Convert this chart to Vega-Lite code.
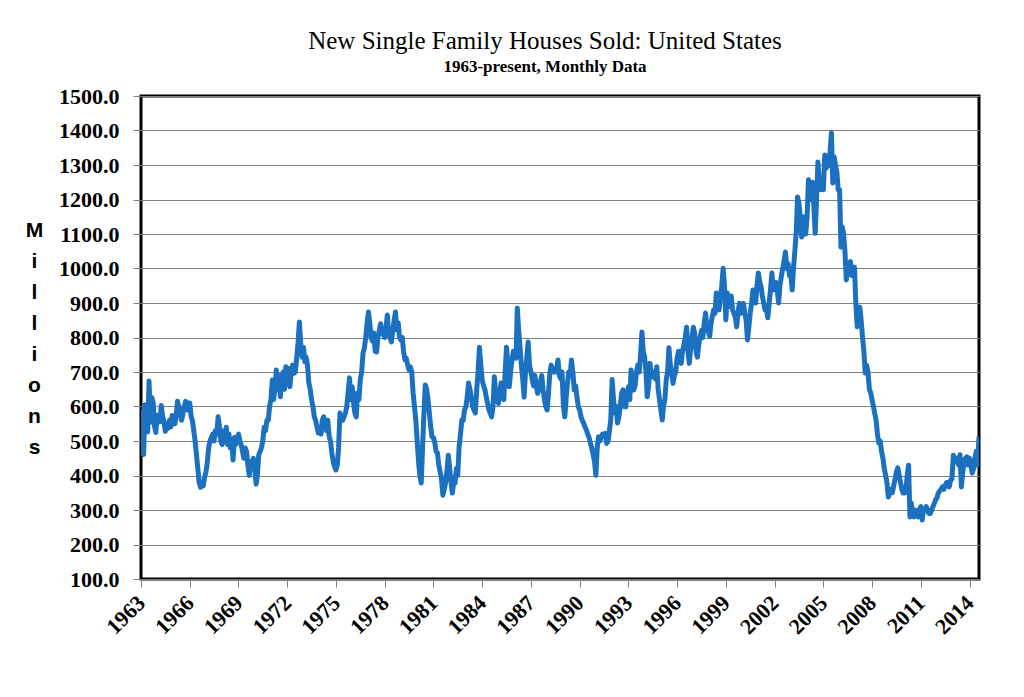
{
  "$schema": "https://vega.github.io/schema/vega-lite/v6.json",
  "width": 838,
  "height": 483,
  "autosize": {"type": "none"},
  "padding": {"left": 141, "top": 96, "right": 45, "bottom": 118},
  "background": "white",
  "title": {
    "text": "New Single Family Houses Sold: United States",
    "subtitle": "1963-present, Monthly Data",
    "anchor": "middle",
    "frame": "group",
    "dx": -15,
    "offset": 10,
    "font": "Liberation Serif",
    "fontSize": 25,
    "fontWeight": "normal",
    "color": "black",
    "subtitleFont": "Liberation Serif",
    "subtitleFontSize": 17,
    "subtitleFontWeight": "bold",
    "subtitleColor": "black",
    "subtitlePadding": 5
  },
  "config": {
    "view": {"stroke": "black", "strokeWidth": 3}
  },
  "data": {
    "values": [
      {"t":"1963-01","v":591},{"t":"1963-02","v":464},{"t":"1963-03","v":461},{"t":"1963-04","v":605},{"t":"1963-05","v":586},{"t":"1963-06","v":526},{"t":"1963-07","v":674},{"t":"1963-08","v":554},{"t":"1963-09","v":626},{"t":"1963-10","v":612},{"t":"1963-11","v":543},{"t":"1963-12","v":525},
      {"t":"1964-01","v":575},{"t":"1964-02","v":575},{"t":"1964-03","v":556},{"t":"1964-04","v":603},{"t":"1964-05","v":571},{"t":"1964-06","v":556},{"t":"1964-07","v":528},{"t":"1964-08","v":549},{"t":"1964-09","v":537},{"t":"1964-10","v":560},{"t":"1964-11","v":541},{"t":"1964-12","v":574},
      {"t":"1965-01","v":560},{"t":"1965-02","v":550},{"t":"1965-03","v":570},{"t":"1965-04","v":615},{"t":"1965-05","v":600},{"t":"1965-06","v":590},{"t":"1965-07","v":560},{"t":"1965-08","v":580},{"t":"1965-09","v":600},{"t":"1965-10","v":615},{"t":"1965-11","v":590},{"t":"1965-12","v":610},
      {"t":"1966-01","v":610},{"t":"1966-02","v":570},{"t":"1966-03","v":560},{"t":"1966-04","v":530},{"t":"1966-05","v":500},{"t":"1966-06","v":460},{"t":"1966-07","v":420},{"t":"1966-08","v":380},{"t":"1966-09","v":366},{"t":"1966-10","v":375},{"t":"1966-11","v":370},{"t":"1966-12","v":395},
      {"t":"1967-01","v":410},{"t":"1967-02","v":440},{"t":"1967-03","v":480},{"t":"1967-04","v":500},{"t":"1967-05","v":510},{"t":"1967-06","v":520},{"t":"1967-07","v":500},{"t":"1967-08","v":530},{"t":"1967-09","v":520},{"t":"1967-10","v":570},{"t":"1967-11","v":540},{"t":"1967-12","v":500},
      {"t":"1968-01","v":490},{"t":"1968-02","v":530},{"t":"1968-03","v":500},{"t":"1968-04","v":540},{"t":"1968-05","v":490},{"t":"1968-06","v":520},{"t":"1968-07","v":480},{"t":"1968-08","v":500},{"t":"1968-09","v":445},{"t":"1968-10","v":510},{"t":"1968-11","v":490},{"t":"1968-12","v":510},
      {"t":"1969-01","v":520},{"t":"1969-02","v":500},{"t":"1969-03","v":490},{"t":"1969-04","v":470},{"t":"1969-05","v":450},{"t":"1969-06","v":480},{"t":"1969-07","v":470},{"t":"1969-08","v":430},{"t":"1969-09","v":400},{"t":"1969-10","v":440},{"t":"1969-11","v":420},{"t":"1969-12","v":450},
      {"t":"1970-01","v":420},{"t":"1970-02","v":375},{"t":"1970-03","v":400},{"t":"1970-04","v":460},{"t":"1970-05","v":470},{"t":"1970-06","v":480},{"t":"1970-07","v":500},{"t":"1970-08","v":540},{"t":"1970-09","v":530},{"t":"1970-10","v":560},{"t":"1970-11","v":560},{"t":"1970-12","v":600},
      {"t":"1971-01","v":620},{"t":"1971-02","v":677},{"t":"1971-03","v":620},{"t":"1971-04","v":650},{"t":"1971-05","v":706},{"t":"1971-06","v":650},{"t":"1971-07","v":690},{"t":"1971-08","v":628},{"t":"1971-09","v":680},{"t":"1971-10","v":700},{"t":"1971-11","v":650},{"t":"1971-12","v":715},
      {"t":"1972-01","v":690},{"t":"1972-02","v":710},{"t":"1972-03","v":657},{"t":"1972-04","v":700},{"t":"1972-05","v":720},{"t":"1972-06","v":696},{"t":"1972-07","v":700},{"t":"1972-08","v":740},{"t":"1972-09","v":784},{"t":"1972-10","v":845},{"t":"1972-11","v":780},{"t":"1972-12","v":743},
      {"t":"1973-01","v":772},{"t":"1973-02","v":730},{"t":"1973-03","v":743},{"t":"1973-04","v":720},{"t":"1973-05","v":668},{"t":"1973-06","v":650},{"t":"1973-07","v":620},{"t":"1973-08","v":600},{"t":"1973-09","v":570},{"t":"1973-10","v":560},{"t":"1973-11","v":540},{"t":"1973-12","v":523},
      {"t":"1974-01","v":540},{"t":"1974-02","v":520},{"t":"1974-03","v":561},{"t":"1974-04","v":570},{"t":"1974-05","v":540},{"t":"1974-06","v":530},{"t":"1974-07","v":560},{"t":"1974-08","v":513},{"t":"1974-09","v":500},{"t":"1974-10","v":465},{"t":"1974-11","v":440},{"t":"1974-12","v":425},
      {"t":"1975-01","v":416},{"t":"1975-02","v":430},{"t":"1975-03","v":480},{"t":"1975-04","v":581},{"t":"1975-05","v":561},{"t":"1975-06","v":560},{"t":"1975-07","v":570},{"t":"1975-08","v":580},{"t":"1975-09","v":600},{"t":"1975-10","v":640},{"t":"1975-11","v":683},{"t":"1975-12","v":620},
      {"t":"1976-01","v":657},{"t":"1976-02","v":610},{"t":"1976-03","v":581},{"t":"1976-04","v":570},{"t":"1976-05","v":640},{"t":"1976-06","v":620},{"t":"1976-07","v":678},{"t":"1976-08","v":700},{"t":"1976-09","v":755},{"t":"1976-10","v":770},{"t":"1976-11","v":800},{"t":"1976-12","v":842},
      {"t":"1977-01","v":874},{"t":"1977-02","v":840},{"t":"1977-03","v":800},{"t":"1977-04","v":790},{"t":"1977-05","v":813},{"t":"1977-06","v":760},{"t":"1977-07","v":758},{"t":"1977-08","v":800},{"t":"1977-09","v":820},{"t":"1977-10","v":840},{"t":"1977-11","v":810},{"t":"1977-12","v":822},
      {"t":"1978-01","v":800},{"t":"1978-02","v":830},{"t":"1978-03","v":865},{"t":"1978-04","v":810},{"t":"1978-05","v":800},{"t":"1978-06","v":787},{"t":"1978-07","v":820},{"t":"1978-08","v":850},{"t":"1978-09","v":874},{"t":"1978-10","v":822},{"t":"1978-11","v":842},{"t":"1978-12","v":800},
      {"t":"1979-01","v":793},{"t":"1979-02","v":800},{"t":"1979-03","v":760},{"t":"1979-04","v":735},{"t":"1979-05","v":740},{"t":"1979-06","v":720},{"t":"1979-07","v":706},{"t":"1979-08","v":715},{"t":"1979-09","v":700},{"t":"1979-10","v":640},{"t":"1979-11","v":600},{"t":"1979-12","v":561},
      {"t":"1980-01","v":500},{"t":"1980-02","v":440},{"t":"1980-03","v":400},{"t":"1980-04","v":378},{"t":"1980-05","v":480},{"t":"1980-06","v":580},{"t":"1980-07","v":662},{"t":"1980-08","v":650},{"t":"1980-09","v":620},{"t":"1980-10","v":580},{"t":"1980-11","v":540},{"t":"1980-12","v":512},
      {"t":"1981-01","v":510},{"t":"1981-02","v":495},{"t":"1981-03","v":470},{"t":"1981-04","v":465},{"t":"1981-05","v":430},{"t":"1981-06","v":410},{"t":"1981-07","v":390},{"t":"1981-08","v":343},{"t":"1981-09","v":360},{"t":"1981-10","v":378},{"t":"1981-11","v":415},{"t":"1981-12","v":459},
      {"t":"1982-01","v":420},{"t":"1982-02","v":380},{"t":"1982-03","v":349},{"t":"1982-04","v":380},{"t":"1982-05","v":378},{"t":"1982-06","v":420},{"t":"1982-07","v":400},{"t":"1982-08","v":483},{"t":"1982-09","v":520},{"t":"1982-10","v":561},{"t":"1982-11","v":560},{"t":"1982-12","v":590},
      {"t":"1983-01","v":599},{"t":"1983-02","v":630},{"t":"1983-03","v":668},{"t":"1983-04","v":650},{"t":"1983-05","v":628},{"t":"1983-06","v":600},{"t":"1983-07","v":590},{"t":"1983-08","v":581},{"t":"1983-09","v":650},{"t":"1983-10","v":700},{"t":"1983-11","v":772},{"t":"1983-12","v":720},
      {"t":"1984-01","v":677},{"t":"1984-02","v":660},{"t":"1984-03","v":650},{"t":"1984-04","v":628},{"t":"1984-05","v":610},{"t":"1984-06","v":590},{"t":"1984-07","v":580},{"t":"1984-08","v":570},{"t":"1984-09","v":600},{"t":"1984-10","v":686},{"t":"1984-11","v":640},{"t":"1984-12","v":620},
      {"t":"1985-01","v":609},{"t":"1985-02","v":640},{"t":"1985-03","v":668},{"t":"1985-04","v":640},{"t":"1985-05","v":620},{"t":"1985-06","v":700},{"t":"1985-07","v":772},{"t":"1985-08","v":720},{"t":"1985-09","v":657},{"t":"1985-10","v":700},{"t":"1985-11","v":735},{"t":"1985-12","v":760},
      {"t":"1986-01","v":760},{"t":"1986-02","v":740},{"t":"1986-03","v":885},{"t":"1986-04","v":820},{"t":"1986-05","v":772},{"t":"1986-06","v":720},{"t":"1986-07","v":680},{"t":"1986-08","v":627},{"t":"1986-09","v":700},{"t":"1986-10","v":743},{"t":"1986-11","v":787},{"t":"1986-12","v":720},
      {"t":"1987-01","v":700},{"t":"1987-02","v":677},{"t":"1987-03","v":660},{"t":"1987-04","v":690},{"t":"1987-05","v":660},{"t":"1987-06","v":638},{"t":"1987-07","v":650},{"t":"1987-08","v":668},{"t":"1987-09","v":690},{"t":"1987-10","v":650},{"t":"1987-11","v":620},{"t":"1987-12","v":600},
      {"t":"1988-01","v":590},{"t":"1988-02","v":640},{"t":"1988-03","v":696},{"t":"1988-04","v":720},{"t":"1988-05","v":700},{"t":"1988-06","v":710},{"t":"1988-07","v":700},{"t":"1988-08","v":710},{"t":"1988-09","v":735},{"t":"1988-10","v":690},{"t":"1988-11","v":680},{"t":"1988-12","v":700},
      {"t":"1989-01","v":600},{"t":"1989-02","v":570},{"t":"1989-03","v":620},{"t":"1989-04","v":668},{"t":"1989-05","v":700},{"t":"1989-06","v":690},{"t":"1989-07","v":735},{"t":"1989-08","v":700},{"t":"1989-09","v":648},{"t":"1989-10","v":660},{"t":"1989-11","v":628},{"t":"1989-12","v":600},
      {"t":"1990-01","v":590},{"t":"1990-02","v":570},{"t":"1990-03","v":560},{"t":"1990-04","v":552},{"t":"1990-05","v":540},{"t":"1990-06","v":532},{"t":"1990-07","v":520},{"t":"1990-08","v":510},{"t":"1990-09","v":493},{"t":"1990-10","v":480},{"t":"1990-11","v":460},{"t":"1990-12","v":440},
      {"t":"1991-01","v":401},{"t":"1991-02","v":483},{"t":"1991-03","v":512},{"t":"1991-04","v":500},{"t":"1991-05","v":512},{"t":"1991-06","v":520},{"t":"1991-07","v":515},{"t":"1991-08","v":522},{"t":"1991-09","v":493},{"t":"1991-10","v":500},{"t":"1991-11","v":530},{"t":"1991-12","v":560},
      {"t":"1992-01","v":678},{"t":"1992-02","v":620},{"t":"1992-03","v":581},{"t":"1992-04","v":600},{"t":"1992-05","v":552},{"t":"1992-06","v":570},{"t":"1992-07","v":600},{"t":"1992-08","v":638},{"t":"1992-09","v":648},{"t":"1992-10","v":600},{"t":"1992-11","v":599},{"t":"1992-12","v":630},
      {"t":"1993-01","v":657},{"t":"1993-02","v":620},{"t":"1993-03","v":706},{"t":"1993-04","v":680},{"t":"1993-05","v":648},{"t":"1993-06","v":660},{"t":"1993-07","v":700},{"t":"1993-08","v":720},{"t":"1993-09","v":700},{"t":"1993-10","v":750},{"t":"1993-11","v":816},{"t":"1993-12","v":760},
      {"t":"1994-01","v":743},{"t":"1994-02","v":700},{"t":"1994-03","v":628},{"t":"1994-04","v":660},{"t":"1994-05","v":725},{"t":"1994-06","v":690},{"t":"1994-07","v":686},{"t":"1994-08","v":700},{"t":"1994-09","v":680},{"t":"1994-10","v":715},{"t":"1994-11","v":650},{"t":"1994-12","v":620},
      {"t":"1995-01","v":590},{"t":"1995-02","v":561},{"t":"1995-03","v":600},{"t":"1995-04","v":620},{"t":"1995-05","v":677},{"t":"1995-06","v":700},{"t":"1995-07","v":770},{"t":"1995-08","v":720},{"t":"1995-09","v":700},{"t":"1995-10","v":667},{"t":"1995-11","v":690},{"t":"1995-12","v":700},
      {"t":"1996-01","v":740},{"t":"1996-02","v":760},{"t":"1996-03","v":750},{"t":"1996-04","v":725},{"t":"1996-05","v":760},{"t":"1996-06","v":780},{"t":"1996-07","v":800},{"t":"1996-08","v":830},{"t":"1996-09","v":760},{"t":"1996-10","v":725},{"t":"1996-11","v":770},{"t":"1996-12","v":800},
      {"t":"1997-01","v":830},{"t":"1997-02","v":810},{"t":"1997-03","v":760},{"t":"1997-04","v":743},{"t":"1997-05","v":780},{"t":"1997-06","v":800},{"t":"1997-07","v":820},{"t":"1997-08","v":800},{"t":"1997-09","v":840},{"t":"1997-10","v":871},{"t":"1997-11","v":830},{"t":"1997-12","v":820},
      {"t":"1998-01","v":803},{"t":"1998-02","v":840},{"t":"1998-03","v":860},{"t":"1998-04","v":880},{"t":"1998-05","v":870},{"t":"1998-06","v":929},{"t":"1998-07","v":900},{"t":"1998-08","v":880},{"t":"1998-09","v":920},{"t":"1998-10","v":950},{"t":"1998-11","v":1001},{"t":"1998-12","v":950},
      {"t":"1999-01","v":851},{"t":"1999-02","v":929},{"t":"1999-03","v":900},{"t":"1999-04","v":890},{"t":"1999-05","v":920},{"t":"1999-06","v":880},{"t":"1999-07","v":870},{"t":"1999-08","v":860},{"t":"1999-09","v":831},{"t":"1999-10","v":870},{"t":"1999-11","v":899},{"t":"1999-12","v":870},
      {"t":"2000-01","v":880},{"t":"2000-02","v":899},{"t":"2000-03","v":870},{"t":"2000-04","v":850},{"t":"2000-05","v":793},{"t":"2000-06","v":830},{"t":"2000-07","v":870},{"t":"2000-08","v":900},{"t":"2000-09","v":938},{"t":"2000-10","v":920},{"t":"2000-11","v":900},{"t":"2000-12","v":950},
      {"t":"2001-01","v":987},{"t":"2001-02","v":960},{"t":"2001-03","v":948},{"t":"2001-04","v":920},{"t":"2001-05","v":900},{"t":"2001-06","v":880},{"t":"2001-07","v":880},{"t":"2001-08","v":857},{"t":"2001-09","v":900},{"t":"2001-10","v":940},{"t":"2001-11","v":987},{"t":"2001-12","v":938},
      {"t":"2002-01","v":950},{"t":"2002-02","v":960},{"t":"2002-03","v":938},{"t":"2002-04","v":900},{"t":"2002-05","v":950},{"t":"2002-06","v":977},{"t":"2002-07","v":1000},{"t":"2002-08","v":1020},{"t":"2002-09","v":1048},{"t":"2002-10","v":1000},{"t":"2002-11","v":1014},{"t":"2002-12","v":980},
      {"t":"2003-01","v":980},{"t":"2003-02","v":938},{"t":"2003-03","v":1000},{"t":"2003-04","v":1050},{"t":"2003-05","v":1102},{"t":"2003-06","v":1207},{"t":"2003-07","v":1190},{"t":"2003-08","v":1150},{"t":"2003-09","v":1091},{"t":"2003-10","v":1120},{"t":"2003-11","v":1150},{"t":"2003-12","v":1100},
      {"t":"2004-01","v":1150},{"t":"2004-02","v":1257},{"t":"2004-03","v":1228},{"t":"2004-04","v":1200},{"t":"2004-05","v":1250},{"t":"2004-06","v":1180},{"t":"2004-07","v":1102},{"t":"2004-08","v":1200},{"t":"2004-09","v":1309},{"t":"2004-10","v":1250},{"t":"2004-11","v":1228},{"t":"2004-12","v":1250},
      {"t":"2005-01","v":1228},{"t":"2005-02","v":1329},{"t":"2005-03","v":1290},{"t":"2005-04","v":1296},{"t":"2005-05","v":1300},{"t":"2005-06","v":1340},{"t":"2005-07","v":1393},{"t":"2005-08","v":1248},{"t":"2005-09","v":1323},{"t":"2005-10","v":1300},{"t":"2005-11","v":1280},{"t":"2005-12","v":1228},
      {"t":"2006-01","v":1228},{"t":"2006-02","v":1062},{"t":"2006-03","v":1120},{"t":"2006-04","v":1100},{"t":"2006-05","v":1050},{"t":"2006-06","v":967},{"t":"2006-07","v":1000},{"t":"2006-08","v":1004},{"t":"2006-09","v":1020},{"t":"2006-10","v":980},{"t":"2006-11","v":980},{"t":"2006-12","v":1004},
      {"t":"2007-01","v":900},{"t":"2007-02","v":831},{"t":"2007-03","v":860},{"t":"2007-04","v":888},{"t":"2007-05","v":850},{"t":"2007-06","v":800},{"t":"2007-07","v":760},{"t":"2007-08","v":697},{"t":"2007-09","v":720},{"t":"2007-10","v":700},{"t":"2007-11","v":650},{"t":"2007-12","v":640},
      {"t":"2008-01","v":619},{"t":"2008-02","v":600},{"t":"2008-03","v":580},{"t":"2008-04","v":560},{"t":"2008-05","v":520},{"t":"2008-06","v":494},{"t":"2008-07","v":500},{"t":"2008-08","v":470},{"t":"2008-09","v":450},{"t":"2008-10","v":420},{"t":"2008-11","v":400},{"t":"2008-12","v":380},
      {"t":"2009-01","v":338},{"t":"2009-02","v":350},{"t":"2009-03","v":360},{"t":"2009-04","v":350},{"t":"2009-05","v":370},{"t":"2009-06","v":390},{"t":"2009-07","v":410},{"t":"2009-08","v":422},{"t":"2009-09","v":400},{"t":"2009-10","v":380},{"t":"2009-11","v":360},{"t":"2009-12","v":349},
      {"t":"2010-01","v":349},{"t":"2010-02","v":360},{"t":"2010-03","v":400},{"t":"2010-04","v":430},{"t":"2010-05","v":280},{"t":"2010-06","v":320},{"t":"2010-07","v":290},{"t":"2010-08","v":280},{"t":"2010-09","v":300},{"t":"2010-10","v":290},{"t":"2010-11","v":280},{"t":"2010-12","v":300},
      {"t":"2011-01","v":310},{"t":"2011-02","v":271},{"t":"2011-03","v":300},{"t":"2011-04","v":300},{"t":"2011-05","v":310},{"t":"2011-06","v":300},{"t":"2011-07","v":290},{"t":"2011-08","v":290},{"t":"2011-09","v":300},{"t":"2011-10","v":310},{"t":"2011-11","v":320},{"t":"2011-12","v":330},
      {"t":"2012-01","v":335},{"t":"2012-02","v":350},{"t":"2012-03","v":355},{"t":"2012-04","v":360},{"t":"2012-05","v":367},{"t":"2012-06","v":360},{"t":"2012-07","v":370},{"t":"2012-08","v":380},{"t":"2012-09","v":380},{"t":"2012-10","v":367},{"t":"2012-11","v":387},{"t":"2012-12","v":390},
      {"t":"2013-01","v":459},{"t":"2013-02","v":440},{"t":"2013-03","v":445},{"t":"2013-04","v":450},{"t":"2013-05","v":430},{"t":"2013-06","v":460},{"t":"2013-07","v":367},{"t":"2013-08","v":410},{"t":"2013-09","v":440},{"t":"2013-10","v":450},{"t":"2013-11","v":454},{"t":"2013-12","v":430},
      {"t":"2014-01","v":450},{"t":"2014-02","v":430},{"t":"2014-03","v":407},{"t":"2014-04","v":420},{"t":"2014-05","v":450},{"t":"2014-06","v":470},{"t":"2014-07","v":430},{"t":"2014-08","v":512}
    ]
  },
  "mark": {"type": "line", "color": "#1b70c0", "strokeWidth": 5, "strokeJoin": "round", "clip": true},
  "encoding": {
    "x": {
      "field": "t",
      "type": "temporal",
      "scale": {
        "type": "utc",
        "domain": [{"year": 1963, "month": 1, "date": 1, "utc": true}, {"year": 2014, "month": 8, "date": 1, "utc": true}],
        "nice": false
      },
      "axis": {
        "title": null,
        "values": [
          {"year": 1963, "month": 1, "date": 1, "utc": true},
          {"year": 1966, "month": 1, "date": 1, "utc": true},
          {"year": 1969, "month": 1, "date": 1, "utc": true},
          {"year": 1972, "month": 1, "date": 1, "utc": true},
          {"year": 1975, "month": 1, "date": 1, "utc": true},
          {"year": 1978, "month": 1, "date": 1, "utc": true},
          {"year": 1981, "month": 1, "date": 1, "utc": true},
          {"year": 1984, "month": 1, "date": 1, "utc": true},
          {"year": 1987, "month": 1, "date": 1, "utc": true},
          {"year": 1990, "month": 1, "date": 1, "utc": true},
          {"year": 1993, "month": 1, "date": 1, "utc": true},
          {"year": 1996, "month": 1, "date": 1, "utc": true},
          {"year": 1999, "month": 1, "date": 1, "utc": true},
          {"year": 2002, "month": 1, "date": 1, "utc": true},
          {"year": 2005, "month": 1, "date": 1, "utc": true},
          {"year": 2008, "month": 1, "date": 1, "utc": true},
          {"year": 2011, "month": 1, "date": 1, "utc": true},
          {"year": 2014, "month": 1, "date": 1, "utc": true}
        ],
        "format": "%Y",
        "formatType": "utc",
        "labelAngle": -45,
        "labelAlign": "right",
        "labelBaseline": "middle",
        "labelPadding": 12,
        "labelFont": "Liberation Serif",
        "labelFontWeight": "bold",
        "labelFontSize": 22,
        "labelColor": "black",
        "labelOverlap": false,
        "labelBound": false,
        "labelFlush": false,
        "tickSize": 8,
        "tickColor": "#808080",
        "tickWidth": 1,
        "domain": false,
        "grid": false
      }
    },
    "y": {
      "field": "v",
      "type": "quantitative",
      "scale": {"domain": [100, 1500], "nice": false, "zero": false},
      "axis": {
        "title": ["M", "i", "l", "l", "i", "o", "n", "s"],
        "titleAngle": 0,
        "titleFont": "Liberation Sans",
        "titleFontWeight": "bold",
        "titleFontSize": 21,
        "titleLineHeight": 31,
        "titleColor": "black",
        "titleAlign": "center",
        "titleBaseline": "middle",
        "titleX": -107,
        "titleY": 134,
        "values": [100, 200, 300, 400, 500, 600, 700, 800, 900, 1000, 1100, 1200, 1300, 1400, 1500],
        "format": ".1f",
        "labelFont": "Liberation Serif",
        "labelFontWeight": "bold",
        "labelFontSize": 22,
        "labelColor": "black",
        "labelPadding": 14,
        "labelOverlap": false,
        "labelFlush": false,
        "tickSize": 8,
        "tickColor": "#808080",
        "tickWidth": 1,
        "domain": false,
        "grid": true,
        "gridColor": "#808080",
        "gridWidth": 1
      }
    }
  }
}
